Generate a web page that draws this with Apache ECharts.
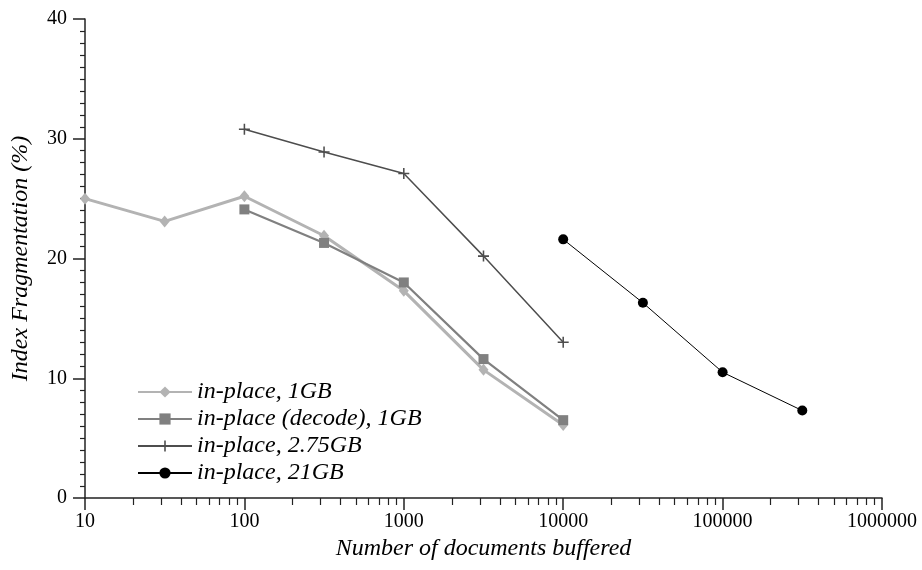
<!DOCTYPE html>
<html>
<head>
  <meta charset="utf-8">
  <title>Index Fragmentation</title>
  <script src="https://cdn.jsdelivr.net/npm/echarts@6/dist/echarts.min.js"></script>
  <style>
    html, body { margin: 0; padding: 0; background: #fff; }
    #main { width: 922px; height: 570px; }
  </style>
</head>
<body>
<div id="main"></div>
<script>
// documents buffered (x) and fragmentation % (y)
var x1GB = [10, 31.6, 100, 316, 1000, 3162, 10000];
var y1GB = [25.0, 23.1, 25.2, 21.9, 17.3, 10.7, 6.1];

var xDecode = [100, 316, 1000, 3162, 10000];
var yDecode = [24.1, 21.3, 18.0, 11.6, 6.5];

var x275GB = [100, 316, 1000, 3162, 10000];
var y275GB = [30.8, 28.9, 27.1, 20.2, 13.0];

var x21GB = [10000, 31623, 100000, 316228];
var y21GB = [21.6, 16.3, 10.5, 7.3];

var seriesNames = ['in-place, 1GB', 'in-place (decode), 1GB', 'in-place, 2.75GB', 'in-place, 21GB'];

// minor log ticks 2..9 in each decade, positions in log10 space
var minorTicks = [];
for (var d = 1; d < 6; d++) {
  for (var k = 2; k <= 9; k++) minorTicks.push(d + Math.log10(k));
}

function pairs(xs, ys) {
  var out = [];
  for (var i = 0; i < xs.length; i++) out.push([xs[i], ys[i]]);
  return out;
}

var serif = 'Liberation Serif';
var plusPath = 'path://M0.43,0H0.57V0.43H1V0.57H0.57V1H0.43V0.57H0V0.43H0.43Z';

var myChart = echarts.init(document.getElementById('main'));

var option = {
  backgroundColor: '#fff',
  animation: false,
  grid: { left: 85, right: 40, top: 19, bottom: 72 },
  legend: {
    orient: 'vertical',
    left: 132,
    top: 375,
    itemWidth: 54,
    itemHeight: 14,
    itemGap: 3,
    data: seriesNames,
    textStyle: { fontFamily: serif, fontStyle: 'italic', fontSize: 24, color: '#000', lineHeight: 24 }
  },
  xAxis: [{
    type: 'log',
    logBase: 10,
    min: 10,
    max: 1000000,
    splitNumber: 5,
    position: 'bottom',
    name: 'Number of documents buffered',
    nameLocation: 'middle',
    nameGap: 39,
    nameTextStyle: { fontFamily: serif, fontStyle: 'italic', fontSize: 24, color: '#000' },
    axisLine: { lineStyle: { color: '#222', width: 1.5 } },
    axisTick: { length: 12, lineStyle: { color: '#222', width: 1.5 } },
    axisLabel: {
      margin: 14, fontFamily: serif, fontSize: 20, color: '#000',
      formatter: function (v) { return String(Math.round(v)); }
    },
    splitLine: { show: false }
  }, {
    type: 'value',
    min: 1,
    max: 6,
    position: 'bottom',
    axisLine: { show: false },
    axisLabel: { show: false },
    axisTick: { show: true, length: 7, customValues: minorTicks, lineStyle: { color: '#222', width: 1.2 } },
    splitLine: { show: false }
  }],
  yAxis: {
    type: 'value',
    min: 0,
    max: 40,
    interval: 10,
    name: 'Index Fragmentation (%)',
    nameLocation: 'middle',
    nameGap: 52,
    nameTextStyle: { fontFamily: serif, fontStyle: 'italic', fontSize: 24, color: '#000' },
    axisLine: { show: true, lineStyle: { color: '#222', width: 1.5 } },
    axisTick: { show: true, length: 12, lineStyle: { color: '#222', width: 1.5 } },
    minorTick: { show: true, splitNumber: 10, length: 5, lineStyle: { color: '#222', width: 1.2 } },
    axisLabel: { margin: 18, fontFamily: serif, fontSize: 20, color: '#000' },
    splitLine: { show: false }
  },
  series: [{
    name: seriesNames[0],
    type: 'line',
    data: pairs(x1GB, y1GB),
    symbol: 'diamond',
    symbolSize: [10, 12],
    itemStyle: { color: '#b3b3b3' },
    lineStyle: { color: '#b3b3b3', width: 3 }
  }, {
    name: seriesNames[1],
    type: 'line',
    data: pairs(xDecode, yDecode),
    symbol: 'rect',
    symbolSize: 10,
    itemStyle: { color: '#808080' },
    lineStyle: { color: '#808080', width: 2.2 }
  }, {
    name: seriesNames[2],
    type: 'line',
    data: pairs(x275GB, y275GB),
    symbol: plusPath,
    symbolSize: 11,
    itemStyle: { color: '#4d4d4d' },
    lineStyle: { color: '#4d4d4d', width: 1.5 }
  }, {
    name: seriesNames[3],
    type: 'line',
    data: pairs(x21GB, y21GB),
    symbol: 'circle',
    symbolSize: 10,
    itemStyle: { color: '#000' },
    lineStyle: { color: '#000', width: 1 }
  }]
};

myChart.setOption(option);
</script>
</body>
</html>
